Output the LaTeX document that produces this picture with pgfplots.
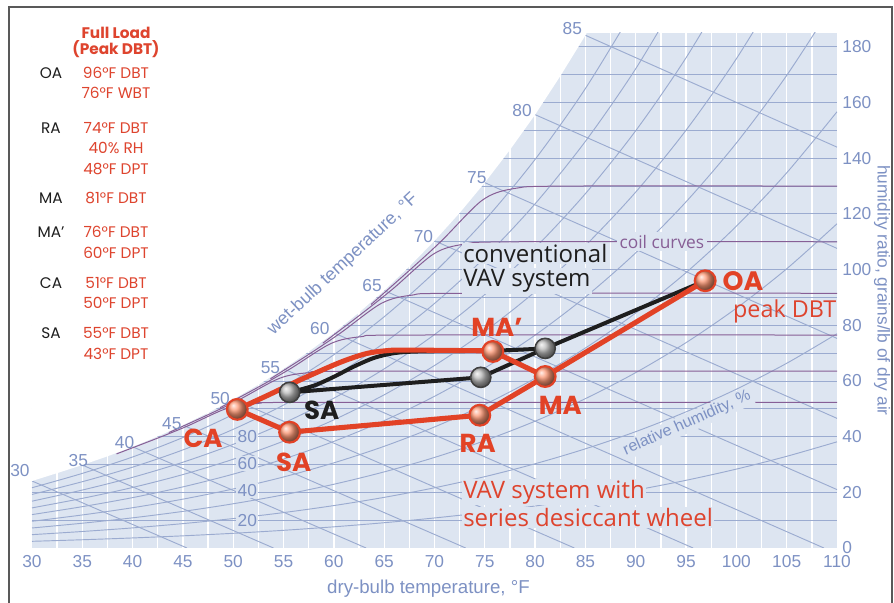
\documentclass[border=0pt]{standalone}
\usepackage{pgfplots}
\pgfplotsset{compat=1.18}
\usepackage{fontspec}
\setmainfont{Liberation Sans}
\newfontfamily\fut{Poppins}
\newfontfamily\myr{Open Sans}
\definecolor{bluefill}{RGB}{221,229,241}
\definecolor{gridb}{RGB}{155,171,208}
\definecolor{tickb}{RGB}{125,145,195}
\definecolor{coil}{RGB}{135,95,150}
\definecolor{redl}{RGB}{226,66,38}
\definecolor{redt}{RGB}{222,68,46}
\definecolor{redball}{RGB}{252,150,115}
\definecolor{grayball}{RGB}{185,185,185}
\definecolor{blk}{RGB}{30,30,30}
\tikzset{wbl/.style={text=tickb, font=\fontsize{13}{14}\selectfont, inner sep=1pt}}
\begin{document}
\begin{tikzpicture}
\useasboundingbox (-24pt,-41.25pt) rectangle (646.5pt,411pt);
\draw[black!65, line width=1.2pt] (-17.25pt,-45pt) -- (-17.25pt,405.75pt) -- (645pt,405.75pt) -- (645pt,-45pt);
\begin{axis}[
 scale only axis, width=603.75pt, height=386.25pt,
 xmin=30, xmax=110, ymin=0, ymax=185,
 clip mode=individual,
 axis line style={draw=none},
 major tick length=0pt,
 xtick={30,35,...,110}, ytick={0,20,...,180},
 yticklabel pos=right,
 tick label style={color=tickb, font=\fontsize{13}{14}\selectfont},
 /pgf/number format/assume math mode=true,
 axis background/.style={fill=bluefill},
 xticklabel style={yshift=-2pt},
 yticklabel style={xshift=0.5pt},
]
% white dry-bulb grid
\pgfplotsinvokeforeach{32.5,35,...,107.5}{\addplot[white, line width=1pt] coordinates {(#1,0) (#1,185)};}
% humidity ratio lines
\pgfplotsinvokeforeach{10,20,...,180}{\addplot[gridb, line width=0.7pt] coordinates {(30,#1) (110,#1)};}
% relative humidity curves
\addplot[gridb, line width=0.7pt, smooth] coordinates {(30,2.40)(35,2.96)(40,3.61)(45,4.37)(50,5.28)(55,6.35)(60,7.61)(65,9.08)(70,10.79)(75,12.78)(80,15.08)(85,17.74)(90,20.80)(95,24.32)(100,28.34)(105,32.93)(110,38.14)};
\addplot[gridb, line width=0.7pt, smooth] coordinates {(30,4.79)(35,5.93)(40,7.22)(45,8.76)(50,10.58)(55,12.72)(60,15.24)(65,18.19)(70,21.63)(75,25.63)(80,30.27)(85,35.63)(90,41.80)(95,48.91)(100,57.05)(105,66.35)(110,76.96)};
\addplot[gridb, line width=0.7pt, smooth] coordinates {(30,7.19)(35,8.90)(40,10.84)(45,13.15)(50,15.89)(55,19.11)(60,22.90)(65,27.34)(70,32.53)(75,38.56)(80,45.56)(85,53.66)(90,63.01)(95,73.77)(100,86.14)(105,100.29)(110,116.47)};
\addplot[gridb, line width=0.7pt, smooth] coordinates {(30,9.60)(35,11.87)(40,14.47)(45,17.55)(50,21.21)(55,25.52)(60,30.59)(65,36.53)(70,43.48)(75,51.56)(80,60.96)(85,71.85)(90,84.42)(95,98.92)(100,115.61)(105,134.76)(110,156.70)};
\addplot[gridb, line width=0.7pt, smooth] coordinates {(30,12.00)(35,14.85)(40,18.10)(45,21.96)(50,26.54)(55,31.95)(60,38.30)(65,45.76)(70,54.49)(75,64.64)(80,76.47)(85,90.18)(90,106.04)(95,124.36)(100,145.48)(105,169.76)(110,197.65)};
\addplot[gridb, line width=0.7pt, smooth] coordinates {(30,14.41)(35,17.83)(40,21.74)(45,26.38)(50,31.89)(55,38.39)(60,46.04)(65,55.03)(70,65.55)(75,77.80)(80,92.09)(85,108.66)(90,127.87)(95,150.09)(100,175.75)(105,205.3)};
\addplot[gridb, line width=0.7pt, smooth] coordinates {(30,16.82)(35,20.82)(40,25.39)(45,30.81)(50,37.25)(55,44.86)(60,53.81)(65,64.34)(70,76.67)(75,91.05)(80,107.82)(85,127.30)(90,149.91)(95,176.11)(100,206.4)};
\addplot[gridb, line width=0.7pt, smooth] coordinates {(30,19.24)(35,23.81)(40,29.04)(45,35.24)(50,42.63)(55,51.35)(60,61.60)(65,73.68)(70,87.84)(75,104.36)(80,123.65)(85,146.10)(90,172.18)(95,202.45)};
\addplot[gridb, line width=0.7pt, smooth] coordinates {(30,21.65)(35,26.80)(40,32.70)(45,39.69)(50,48.01)(55,57.85)(60,69.43)(65,83.07)(70,99.07)(75,117.76)(80,139.61)(85,165.06)(90,194.66)};
% wet-bulb lines
\addplot[gridb, line width=0.7pt] coordinates {(30,24.07)(45.4,0)};
\addplot[gridb, line width=0.7pt] coordinates {(35,29.80)(54.0,0)};
\addplot[gridb, line width=0.7pt] coordinates {(40,36.36)(63.2,0)};
\addplot[gridb, line width=0.7pt] coordinates {(45,44.14)(73.1,0)};
\addplot[gridb, line width=0.7pt] coordinates {(50,53.41)(83.9,0)};
\addplot[gridb, line width=0.7pt] coordinates {(55,64.37)(95.7,0)};
\addplot[gridb, line width=0.7pt] coordinates {(60,77.28)(108.7,0)};
\addplot[gridb, line width=0.7pt] coordinates {(65,92.49)(110,20.98)};
\addplot[gridb, line width=0.7pt] coordinates {(70,110.36)(110,46.57)};
\addplot[gridb, line width=0.7pt] coordinates {(75,131.24)(110,75.29)};
\addplot[gridb, line width=0.7pt] coordinates {(80,155.67)(110,107.63)};
\addplot[gridb, line width=0.7pt] coordinates {(85,184.17)(110,144.0)};
% white mask above saturation curve
\addplot[fill=white, draw=none] coordinates {(28,24.07)(30,24.07)(32.5,26.9)(35,29.80)(37.5,32.93)(40,36.36)(42.5,40.10)(45,44.14)(47.5,48.59)(50,53.41)(52.5,58.64)(55,64.37)(57.5,70.54)(60,77.28)(62.5,84.57)(65,92.49)(67.5,101.14)(70,110.36)(72.5,120.38)(75,131.24)(77.5,143.02)(80,155.67)(82.5,169.51)(85,184.17)(85.12,185)(85.12,200)(28,200)};
% coil curves
\addplot[coil, line width=0.75pt, smooth] coordinates {(38.4,33.8)(42.4,39.35)(45.4,43.73)(49.4,50.2)(52.4,51.9)(57.4,52.3)(110,52.3)};
\addplot[coil, line width=0.75pt, smooth] coordinates {(43.6,41.46)(47.6,48.05)(50.6,53.29)(54.6,60.96)(57.6,63.0)(62.6,63.5)(110,63.5)};
\addplot[coil, line width=0.75pt, smooth] coordinates {(48.7,50.4)(52.7,58.2)(55.7,64.45)(59.7,73.44)(62.7,75.9)(67.7,76.5)(110,76.5)};
\addplot[coil, line width=0.75pt, smooth] coordinates {(53.7,60.78)(57.7,70.01)(60.7,77.34)(64.7,87.84)(67.7,90.8)(72.7,91.5)(110,91.5)};
\addplot[coil, line width=0.75pt, smooth] coordinates {(58.9,73.57)(62.9,84.55)(65.9,93.2)(69.9,105.6)(72.9,109.1)(77.9,110)(110,110)};
\addplot[coil, line width=0.75pt, smooth] coordinates {(63.7,87.49)(67.7,100.35)(70.7,110.34)(74.7,124.8)(77.7,129.0)(82.7,130)(110,130)};
\node[fill=bluefill, inner sep=2pt, text=coil, font=\myr\fontsize{13}{14}\selectfont] at (axis cs:92.6,110) {coil curves};
\node[fill=bluefill, inner sep=1.5pt, text=tickb, rotate=24, font=\fontsize{12}{13}\selectfont] at (axis cs:95.1,44.8) {relative humidity, \%};
% conventional VAV system (black)
\addplot[blk, line width=3pt, line join=round] coordinates {(96.9,96.0)(81.0,71.7)};
\addplot[blk, line width=3pt, smooth, line join=round] coordinates {(81.0,71.7)(76,70.9)(68.5,70.6)(66,70.0)(64,68.3)(62,65.2)(60,61.5)(58,58.3)(55.6,55.9)};
\addplot[blk, line width=3pt, line join=round] coordinates {(55.6,55.9)(74.6,61.3)(81.0,71.7)};
% VAV with desiccant wheel (red)
\addplot[redl, line width=3.8pt, line join=round] coordinates {(96.9,96.0)(81.0,61.6)(75.8,70.6)};
\addplot[redl, line width=3.8pt, smooth, line join=round] coordinates {(75.8,70.8)(67,71.1)(65,70.8)(63.3,69.9)(61.6,68.0)(59.9,65.6)(56.6,60.3)(53.4,54.8)(50.4,49.8)};
\addplot[redl, line width=3.8pt, line join=round] coordinates {(50.4,49.8)(55.6,41.6)(74.5,47.7)(81.0,61.6)};
% markers
\addplot[only marks, mark=ball, mark size=7.6pt, mark options={ball color=grayball}] coordinates {(55.6,55.9)(74.6,61.3)(81.0,71.7)};
\addplot[only marks, mark=o, mark size=7.6pt, mark options={draw=blk!85, line width=1.1pt}] coordinates {(55.6,55.9)(74.6,61.3)(81.0,71.7)};
\addplot[only marks, mark=ball, mark size=7.8pt, mark options={ball color=redball}] coordinates {(96.9,96.0)(81.0,61.6)(75.8,70.6)(50.4,49.8)(55.6,41.6)(74.5,47.7)};
\addplot[only marks, mark=o, mark size=7.8pt, mark options={draw=redl, line width=1.6pt}] coordinates {(96.9,96.0)(81.0,61.6)(75.8,70.6)(50.4,49.8)(55.6,41.6)(74.5,47.7)};
% point labels
\node[text=redl, font=\fut\bfseries\fontsize{20}{20}\selectfont, anchor=west, inner sep=0pt] at (axis cs:98.6,96) {OA};
\node[text=redt, font=\myr\fontsize{17.5}{18}\selectfont] at (axis cs:104.8,84.8) {peak DBT};
\node[text=redl, font=\fut\bfseries\fontsize{19.5}{20}\selectfont] at (axis cs:76.2,79.2) {MA’};
\node[text=redl, font=\fut\bfseries\fontsize{19.5}{20}\selectfont] at (axis cs:82.5,51.3) {MA};
\node[text=redl, font=\fut\bfseries\fontsize{19.5}{20}\selectfont] at (axis cs:74.3,37.6) {RA};
\node[text=redl, font=\fut\bfseries\fontsize{19.5}{20}\selectfont] at (axis cs:56.0,30.8) {SA};
\node[text=redl, font=\fut\bfseries\fontsize{19.5}{20}\selectfont] at (axis cs:47.0,39.4) {CA};
\node[text=blk, font=\fut\bfseries\fontsize{19.5}{20}\selectfont] at (axis cs:58.8,49.5) {SA};
\node[fill=bluefill, inner sep=1pt, anchor=west, text=blk, font=\myr\fontsize{18}{20}\selectfont] at (axis cs:72.7,105.7) {conventional};
\node[fill=bluefill, inner sep=1pt, anchor=west, text=blk, font=\myr\fontsize{18}{20}\selectfont] at (axis cs:72.7,96.0) {VAV system};
\node[fill=bluefill, inner sep=1pt, anchor=west, text=redt, font=\myr\fontsize{18}{20}\selectfont] at (axis cs:72.7,20.1) {VAV system with};
\node[fill=bluefill, inner sep=1pt, anchor=west, text=redt, font=\myr\fontsize{18}{20}\selectfont] at (axis cs:72.7,10.8) {series desiccant wheel};
% wet-bulb labels
\node[wbl] at (axis cs:28.8,28) {30};
\node[wbl] at (axis cs:34.6,31.5) {35};
\node[wbl] at (axis cs:39.2,38) {40};
\node[wbl] at (axis cs:43.9,44.8) {45};
\node[wbl] at (axis cs:48.7,53.8) {50};
\node[wbl] at (axis cs:53.7,64.9) {55};
\node[wbl] at (axis cs:58.6,78.9) {60};
\node[wbl] at (axis cs:63.8,94.3) {65};
\node[wbl] at (axis cs:68.9,111.8) {70};
\node[wbl] at (axis cs:74.2,133) {75};
\node[wbl] at (axis cs:78.7,157) {80};
\node[wbl] at (axis cs:83.7,186.7) {85};
\node[wbl, fill=bluefill] at (axis cs:51.4,40) {80};
\node[wbl, fill=bluefill] at (axis cs:51.4,30.5) {60};
\node[wbl, fill=bluefill] at (axis cs:51.4,20.8) {40};
\node[wbl, fill=bluefill] at (axis cs:51.4,10) {20};
\node[text=tickb, rotate=43, font=\fontsize{13.5}{14}\selectfont] at (axis cs:60.9,101.8) {wet-bulb temperature, °F};
% axis titles
\node[text=tickb, font=\fontsize{14}{15}\selectfont] at (axis cs:69.4,-14.7) {dry-bulb temperature, °F};
\node[text=tickb, rotate=-90, font=\fontsize{13}{15}\selectfont] at (rel axis cs:1.0559,0.5) {humidity ratio, grains/lb of dry air};
\end{axis}
% state table
\begin{scope}[every node/.style={font=\fut\fontsize{11.5}{12}\selectfont, inner sep=0pt}]
\node[text=redt, font=\fut\bfseries\fontsize{11.5}{12}\selectfont] at (63pt,386.25pt) {Full Load};
\node[text=redt, font=\fut\bfseries\fontsize{11.5}{12}\selectfont] at (63pt,374.25pt) {(Peak DBT)};
\node[text=blk] at (14.25pt,356.25pt) {OA};
\node[text=redt] at (63pt,356.25pt) {96°F DBT};
\node[text=redt] at (63pt,341.25pt) {76°F WBT};
\node[text=blk] at (14.25pt,315pt) {RA};
\node[text=redt] at (63pt,315pt) {74°F DBT};
\node[text=redt] at (63pt,300pt) {40\% RH};
\node[text=redt] at (63pt,284.25pt) {48°F DPT};
\node[text=blk] at (14.25pt,262.5pt) {MA};
\node[text=redt] at (63pt,262.5pt) {81°F DBT};
\node[text=blk] at (14.25pt,237pt) {MA’};
\node[text=redt] at (63pt,237pt) {76°F DBT};
\node[text=redt] at (63pt,221.25pt) {60°F DPT};
\node[text=blk] at (14.25pt,198.75pt) {CA};
\node[text=redt] at (63pt,198.75pt) {51°F DBT};
\node[text=redt] at (63pt,183.75pt) {50°F DPT};
\node[text=blk] at (14.25pt,161.25pt) {SA};
\node[text=redt] at (63pt,161.25pt) {55°F DBT};
\node[text=redt] at (63pt,145.5pt) {43°F DPT};
\end{scope}
\end{tikzpicture}
\end{document}
